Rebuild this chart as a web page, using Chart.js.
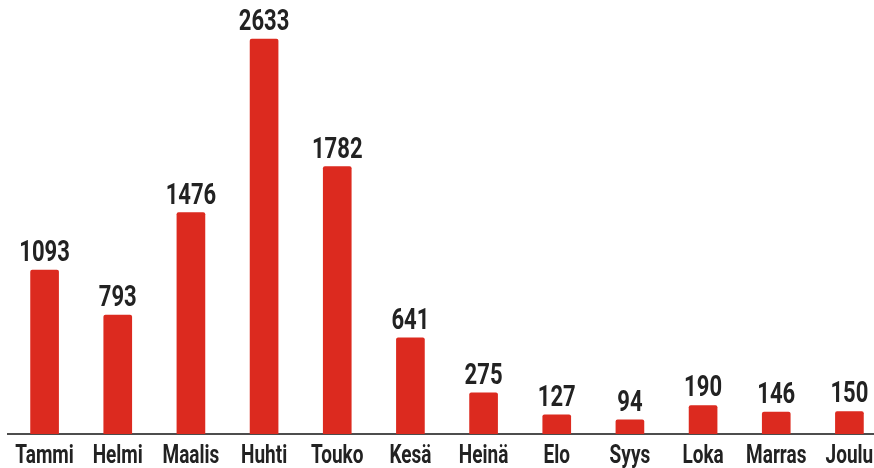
<!DOCTYPE html>
<html>
<head>
<meta charset="utf-8">
<script src="https://cdn.jsdelivr.net/npm/chart.js@4"></script>
<style>
  html, body { margin: 0; padding: 0; background: #fff; overflow: hidden; }
  #wrap { width: 886px; height: 468px; position: relative; }
</style>
</head>
<body>
<div id="wrap"><canvas id="myChart"></canvas></div>
<script>
const months = ["Tammi", "Helmi", "Maalis", "Huhti", "Touko", "Kesä", "Heinä", "Elo", "Syys", "Loka", "Marras", "Joulu"]
const counts = [1093, 793, 1476, 2633, 1782, 641, 275, 127, 94, 190, 146, 150]
const yMax = 2893

const barRed = "#dc2a1f"
const textDark = "#222222"
const fontFamily = "Roboto, 'DejaVu Sans', sans-serif"
const squeeze = 0.76 // the original type is a condensed face

function narrowText(ctx, text, x, y) {
  ctx.save()
  ctx.translate(x, y)
  ctx.scale(squeeze, 1)
  ctx.fillText(text, 0, 0)
  ctx.restore()
}

// value on top of each bar + month names under the axis
const barTexts = {
  id: "barTexts",
  afterDraw(chart) {
    const ctx = chart.ctx
    const meta = chart.getDatasetMeta(0)
    ctx.save()
    ctx.fillStyle = textDark
    ctx.textAlign = "center"
    ctx.textBaseline = "alphabetic"
    ctx.font = "bold 29px " + fontFamily
    meta.data.forEach((bar, i) => {
      narrowText(ctx, String(counts[i]), bar.x, bar.y - 9)
    })
    ctx.font = "bold 25px " + fontFamily
    meta.data.forEach((bar, i) => {
      narrowText(ctx, months[i], bar.x, chart.chartArea.bottom + 29)
    })
    ctx.restore()
  }
}

new Chart(document.getElementById("myChart"), {
  type: "bar",
  data: {
    labels: months,
    datasets: [{
      data: counts,
      backgroundColor: barRed,
      borderRadius: { topLeft: 2, topRight: 2 },
      borderSkipped: "bottom",
      barThickness: 28
    }]
  },
  options: {
    responsive: true,
    maintainAspectRatio: false,
    animation: false,
    layout: { padding: { left: 8, right: 0, top: 0, bottom: 0 } },
    plugins: { legend: { display: false }, tooltip: { enabled: false } },
    scales: {
      x: {
        grid: { display: false, drawTicks: false },
        border: { display: true, color: "#4d4d4d", width: 2 },
        ticks: {
          color: "rgba(0,0,0,0)",
          padding: 0,
          maxRotation: 0,
          autoSkip: false,
          font: { family: fontFamily, size: 25, weight: "bold", lineHeight: 1.36 }
        }
      },
      y: {
        display: false,
        min: 0,
        max: yMax
      }
    }
  },
  plugins: [barTexts]
})
</script>
</body>
</html>
